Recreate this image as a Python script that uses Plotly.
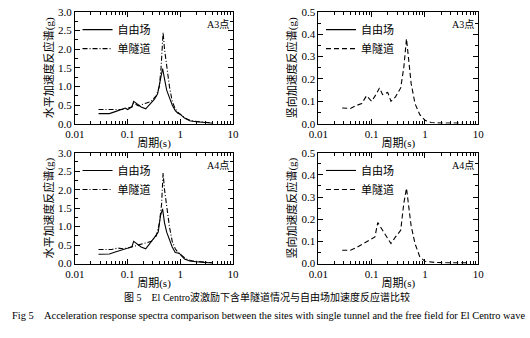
import plotly.graph_objects as go

# ---- data ----
# A3 horizontal
a3h_ff_x = [0.028, 0.045, 0.06, 0.08, 0.09, 0.1, 0.12, 0.13, 0.16, 0.18, 0.22, 0.27, 0.32, 0.37, 0.42, 0.46, 0.5, 0.55, 0.62, 0.7, 0.8, 0.9, 1.0, 1.2, 1.5, 2.0, 3.0, 4.0]
a3h_ff_y = [0.27, 0.27, 0.33, 0.38, 0.42, 0.38, 0.45, 0.60, 0.50, 0.45, 0.40, 0.55, 0.65, 0.80, 1.20, 1.48, 1.20, 0.90, 0.70, 0.50, 0.35, 0.28, 0.25, 0.15, 0.08, 0.05, 0.03, 0.01]
a3h_st_x = [0.028, 0.05, 0.065, 0.08, 0.1, 0.12, 0.13, 0.16, 0.22, 0.28, 0.35, 0.4, 0.43, 0.47, 0.5, 0.55, 0.62, 0.7, 0.8, 0.9, 1.0, 1.3, 1.7, 2.5, 4.0]
a3h_st_y = [0.38, 0.38, 0.40, 0.38, 0.42, 0.45, 0.55, 0.48, 0.55, 0.60, 0.75, 1.00, 1.50, 2.45, 2.00, 1.50, 1.00, 0.60, 0.40, 0.30, 0.25, 0.13, 0.07, 0.04, 0.02]
# A3 vertical
a3v_st_x = [0.028, 0.04, 0.05, 0.065, 0.08, 0.09, 0.1, 0.12, 0.14, 0.16, 0.2, 0.23, 0.28, 0.35, 0.4, 0.45, 0.5, 0.55, 0.65, 0.8, 1.0, 1.3, 2.0, 5.0]
a3v_st_y = [0.07, 0.068, 0.08, 0.09, 0.125, 0.11, 0.10, 0.13, 0.16, 0.13, 0.14, 0.10, 0.12, 0.16, 0.25, 0.38, 0.28, 0.18, 0.09, 0.04, 0.015, 0.005, 0.003, 0.003]
# A4 horizontal
a4h_ff_x = [0.028, 0.045, 0.06, 0.08, 0.1, 0.12, 0.13, 0.16, 0.18, 0.22, 0.27, 0.32, 0.38, 0.42, 0.46, 0.5, 0.55, 0.62, 0.7, 0.8, 0.95, 1.2, 1.5, 2.0, 3.0, 4.0]
a4h_ff_y = [0.25, 0.26, 0.32, 0.37, 0.40, 0.45, 0.60, 0.50, 0.45, 0.40, 0.55, 0.70, 0.85, 1.30, 1.48, 1.10, 0.85, 0.65, 0.45, 0.30, 0.28, 0.12, 0.07, 0.05, 0.02, 0.01]
a4h_st_x = [0.028, 0.05, 0.065, 0.08, 0.1, 0.12, 0.16, 0.22, 0.28, 0.35, 0.4, 0.44, 0.47, 0.5, 0.55, 0.62, 0.7, 0.8, 0.9, 1.0, 1.3, 1.7, 2.5, 4.0]
a4h_st_y = [0.38, 0.38, 0.42, 0.40, 0.42, 0.45, 0.50, 0.55, 0.60, 0.75, 1.10, 1.60, 2.45, 2.00, 1.50, 1.00, 0.60, 0.40, 0.30, 0.25, 0.12, 0.07, 0.04, 0.02]
# A4 vertical
a4v_st_x = [0.028, 0.04, 0.05, 0.065, 0.08, 0.1, 0.115, 0.13, 0.15, 0.18, 0.23, 0.28, 0.35, 0.4, 0.45, 0.5, 0.55, 0.65, 0.8, 1.0, 1.5, 3.0, 6.0]
a4v_st_y = [0.06, 0.06, 0.07, 0.085, 0.10, 0.11, 0.12, 0.185, 0.16, 0.13, 0.09, 0.12, 0.15, 0.27, 0.34, 0.25, 0.17, 0.09, 0.03, 0.01, 0.005, 0.003, 0.003]

names = ["自由场", "单隧道"]
points = ["A3点", "A4点"]
x_tickvals = [0.01, 0.1, 1, 10]
x_ticktext = ["0.01", "0.1", "1", "10"]
x_minorvals = [m * d for d in (0.01, 0.1, 1) for m in range(2, 10)]
xlabel = "周期(s)"
ylabel_h = "水平加速度反应谱(g)"
ylabel_v = "竖向加速度反应谱(g)"
caption_cn = "图 5　El Centro波激励下含单隧道情况与自由场加速度反应谱比较"
caption_en = "Fig 5　Acceleration response spectra comparison between the sites with single tunnel and the free field for El Centro wave"

FONT = "Liberation Serif, Noto Sans CJK SC, serif"

fig = go.Figure()

panels = [
    ("x", "y", "legend", a3h_ff_x, a3h_ff_y, a3h_st_x, a3h_st_y, "5px,2px,1px,2px"),
    ("x2", "y2", "legend2", [None], [None], a3v_st_x, a3v_st_y, "5px,3px"),
    ("x3", "y3", "legend3", a4h_ff_x, a4h_ff_y, a4h_st_x, a4h_st_y, "5px,2px,1px,2px"),
    ("x4", "y4", "legend4", [None], [None], a4v_st_x, a4v_st_y, "5px,3px"),
]
for xa, ya, lg, fx, fy, sx, sy, dsh in panels:
    fig.add_trace(go.Scatter(x=fx, y=fy, mode="lines", name=names[0], xaxis=xa, yaxis=ya, legend=lg,
                             showlegend=True, line=dict(color="black", width=1.1)))
    fig.add_trace(go.Scatter(x=sx, y=sy, mode="lines", name=names[1], xaxis=xa, yaxis=ya, legend=lg,
                             showlegend=True, line=dict(color="black", width=1.1, dash=dsh)))

xl = [0.1264, 0.434]
xr = [0.600, 0.911]
yt = [0.639, 0.982]
yb = [0.210, 0.550]

def xaxis(domain, anchor):
    return dict(domain=domain, anchor=anchor, type="log", range=[-2, 1],
                tickvals=x_tickvals, ticktext=x_ticktext,
                ticks="inside", ticklen=5, tickcolor="black", mirror="allticks",
                showline=True, linecolor="black", linewidth=1, showgrid=False, zeroline=False,
                minor=dict(ticks="inside", ticklen=3, tickcolor="black", tickvals=x_minorvals, showgrid=False),
                tickfont=dict(family=FONT, size=11, color="black"),
                title=dict(text=xlabel, font=dict(family=FONT, size=11, color="black"), standoff=0))

def yaxis(domain, anchor, rng, dt, lab):
    return dict(domain=domain, anchor=anchor, range=rng, dtick=dt, tickformat=".1f",
                ticks="inside", ticklen=5, tickcolor="black", mirror="allticks",
                showline=True, linecolor="black", linewidth=1, showgrid=False, zeroline=False,
                minor=dict(ticks="inside", ticklen=3, tickcolor="black", dtick=dt / 2, showgrid=False),
                tickfont=dict(family=FONT, size=11, color="black"),
                title=dict(text=lab, font=dict(family=FONT, size=11, color="black"), standoff=2))

def legend(xd, yd):
    return dict(x=xd[0] + 0.005, y=yd[1] - 0.01, xanchor="left", yanchor="top",
                bgcolor="rgba(0,0,0,0)", borderwidth=0, tracegroupgap=0,
                itemwidth=30, font=dict(family=FONT, size=11, color="black"))

fig.update_layout(
    width=530, height=338, margin=dict(l=0, r=0, t=0, b=0),
    paper_bgcolor="white", plot_bgcolor="white", showlegend=True,
    xaxis=xaxis(xl, "y"), yaxis=yaxis(yt, "x", [0, 3], 0.5, ylabel_h),
    xaxis2=xaxis(xr, "y2"), yaxis2=yaxis(yt, "x2", [0, 0.5], 0.1, ylabel_v),
    xaxis3=xaxis(xl, "y3"), yaxis3=yaxis(yb, "x3", [0, 3], 0.5, ylabel_h),
    xaxis4=xaxis(xr, "y4"), yaxis4=yaxis(yb, "x4", [0, 0.5], 0.1, ylabel_v),
    legend=legend(xl, yt), legend2=legend(xr, yt), legend3=legend(xl, yb), legend4=legend(xr, yb),
)

for i, (xd, yd) in enumerate([(xl, yt), (xr, yt), (xl, yb), (xr, yb)]):
    fig.add_annotation(x=xd[1] - 0.005, y=yd[1] - 0.015, xref="paper", yref="paper",
                       xanchor="right", yanchor="top", showarrow=False,
                       text=points[i // 2], font=dict(family=FONT, size=10, color="black"))

fig.add_annotation(x=0.5, y=1 - 302 / 338, xref="paper", yref="paper", xanchor="center", yanchor="middle",
                   showarrow=False, text=caption_cn, font=dict(family=FONT, size=10, color="black"))
fig.add_annotation(x=0.0, y=1 - 321 / 338, xref="paper", yref="paper", xanchor="left", yanchor="middle",
                   showarrow=False, text=caption_en, font=dict(family=FONT, size=10.4, color="black"))

fig.write_html("out.html")
